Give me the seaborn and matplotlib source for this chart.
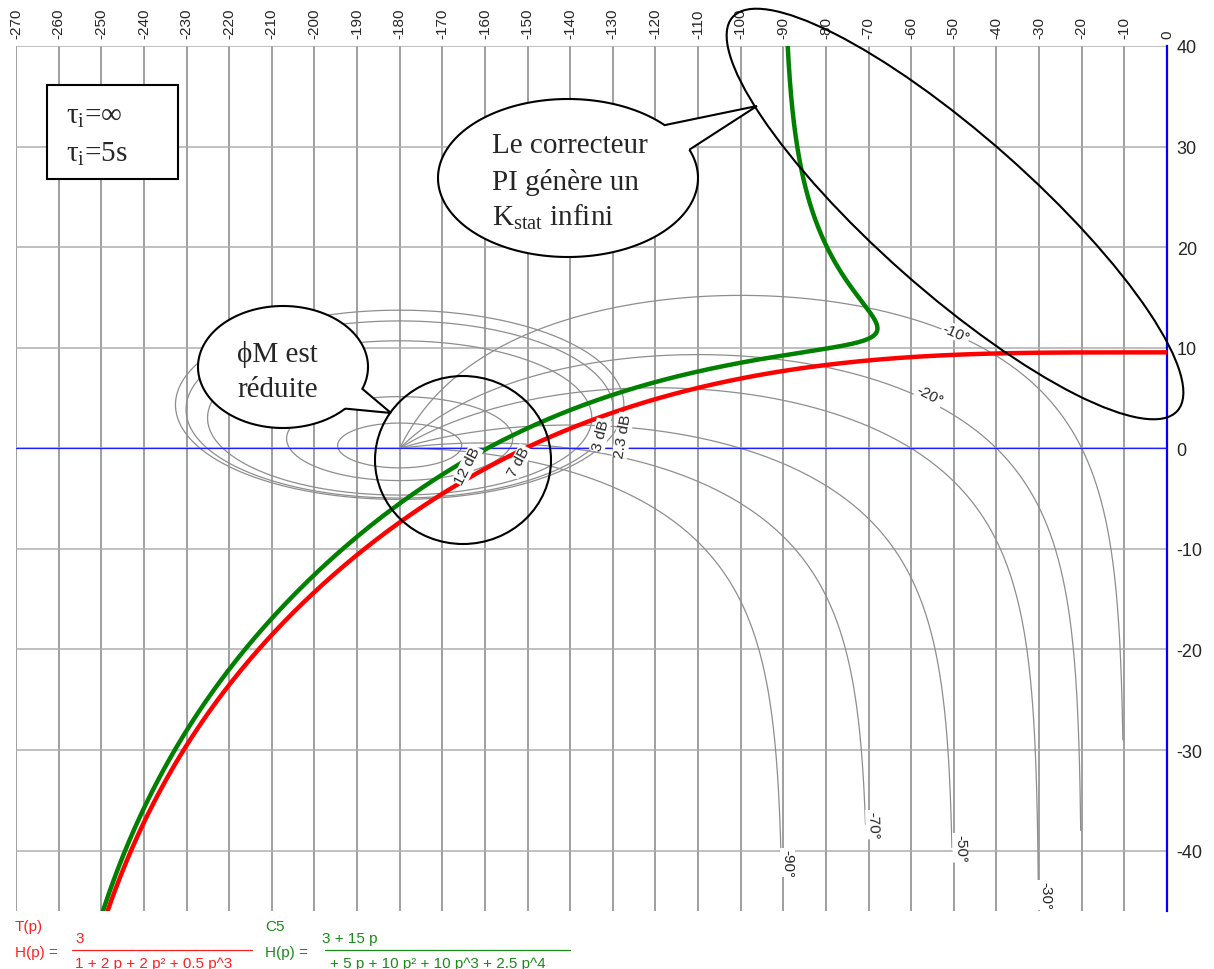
import numpy as np
import pandas as pd
import matplotlib
matplotlib.use("Agg")
import matplotlib.pyplot as plt
import matplotlib.transforms as mtransforms
from matplotlib.patches import Ellipse, PathPatch, Rectangle
from matplotlib.path import Path
from matplotlib.lines import Line2D
import seaborn as sns

# ---- transfer functions (coefficients in increasing powers of p) ----
T_num = [3]
T_den = [1, 2, 2, 0.5]
C5T_num = [3, 15]
C5T_den = [0, 5, 10, 10, 2.5]

# ---- Nichols grid levels ----
m_levels_db = [12, 7, 3, 2.3, 2]
phase_levels = [-10, -20, -30, -50, -70, -90]
phase_ends_db = [-29, -38, -44.5, -39.7, -37.4, -41.2]

m_labels = ["12 dB", "7 dB", "3 dB", "2.3 dB"]
phase_labels = ["-10°", "-20°", "-90°", "-70°", "-50°", "-30°"]

x_ticks = list(range(-270, 1, 10))
y_ticks = list(range(-40, 41, 10))

W, H = 1214, 970

sns.set_theme(style="white")
plt.rcParams.update({
    "font.family": ["Liberation Sans", "DejaVu Sans"],
    "axes.unicode_minus": False,
    "mathtext.fontset": "custom",
    "mathtext.rm": "Liberation Serif",
    "mathtext.it": "Liberation Serif:italic",
    "mathtext.bf": "Liberation Serif:bold",
})

fig = plt.figure(figsize=(W / 100, H / 100), dpi=100)
fig.patch.set_facecolor("white")
# pixel coordinates measured from the top-left corner
px = mtransforms.Affine2D().scale(1, -1).translate(0, H)

ax = fig.add_axes([16 / W, 1 - 912 / H, (1167 - 16) / W, (912 - 47) / H])
ax.set_facecolor("white")
ax.set_xlim(-270, 0)
ax.set_ylim(-46, 40)
ax.set_axisbelow(True)

# grid
ax.set_xticks(x_ticks)
ax.set_yticks(y_ticks)
ax.xaxis.tick_top()
ax.yaxis.tick_right()
ax.set_xticklabels([str(v) for v in x_ticks], rotation=90, fontsize=11)
ax.set_yticklabels([str(v) for v in y_ticks], fontsize=13)
ax.tick_params(axis="both", length=0)
ax.tick_params(axis="x", pad=6)
ax.tick_params(axis="y", pad=7)
ax.xaxis.grid(True, color="#979797", lw=1.3)
ax.yaxis.grid(True, color="#adadad", lw=1.1)
for s in ["left", "top", "bottom"]:
    ax.spines[s].set_visible(False)
ax.spines["right"].set_color("#0000ff")
ax.spines["right"].set_linewidth(1.6)
ax.axhline(0, color="#2020ff", lw=0.9, zorder=1.5)

contour_color = "#8e8e8e"

# closed-loop magnitude contours
psi = np.radians(np.linspace(0, -360, 1441))
for m_db in m_levels_db:
    M = 10 ** (m_db / 20)
    Tc = M * np.exp(1j * psi)
    L = Tc / (1 - Tc)
    ph = np.degrees(np.unwrap(np.angle(L)))
    ph -= 360 * np.round((ph[0] + 180) / 360)
    g = 20 * np.log10(np.abs(L))
    ax.plot(ph, g, color=contour_color, lw=0.9, zorder=1)

# closed-loop phase contours
rho = np.logspace(-3, 3, 6000)
for psi_deg, g_end in zip(phase_levels, phase_ends_db):
    Tc = rho * np.exp(1j * np.radians(psi_deg))
    L = Tc / (1 - Tc)
    ph = np.degrees(np.unwrap(np.angle(L)))
    ph -= 360 * np.round((ph[0] - psi_deg) / 360)
    g = 20 * np.log10(np.abs(L))
    keep = g >= g_end
    ax.plot(ph[keep], g[keep], color=contour_color, lw=0.9, zorder=1)

# open-loop frequency responses
w = np.logspace(-3, 2.5, 6000)


def response(num, den):
    p = 1j * w
    Hs = np.polyval(num[::-1], p) / np.polyval(den[::-1], p)
    return np.degrees(np.unwrap(np.angle(Hs))), 20 * np.log10(np.abs(Hs))


ph_t, g_t = response(T_num, T_den)
ph_c, g_c = response(C5T_num, C5T_den)
df_c = pd.DataFrame({"phase": ph_c, "gain": g_c})
df_t = pd.DataFrame({"phase": ph_t, "gain": g_t})
sns.lineplot(data=df_c, x="phase", y="gain", sort=False, estimator=None,
             color="#008000", lw=3.2, ax=ax, zorder=3)
sns.lineplot(data=df_t, x="phase", y="gain", sort=False, estimator=None,
             color="#ff0000", lw=3.2, ax=ax, zorder=3)
ax.set_xlabel("")
ax.set_ylabel("")

# contour labels
lab_box = dict(facecolor="white", edgecolor="none", pad=0.6)
m_lab_pos = [(-164.1, -1.7, 63), (-152.0, -1.3, 62), (-132.9, 1.3, 76), (-127.6, 1.3, 80)]
for txt, (x, y, r) in zip(m_labels, m_lab_pos):
    ax.text(x, y, txt, rotation=r, ha="center", va="center", fontsize=11,
            bbox=lab_box, zorder=4, rotation_mode="anchor")
ph_lab_pos = [(-49.5, 11.5, -24), (-55.6, 5.3, -28), (-89.0, -41.2, -90),
              (-68.9, -37.4, -88), (-48.5, -39.7, -89), (-28.6, -44.4, -90)]
for txt, (x, y, r) in zip(phase_labels, ph_lab_pos):
    ax.text(x, y, txt, rotation=r, ha="center", va="center", fontsize=11,
            bbox=lab_box, zorder=4, rotation_mode="anchor")

# ---- annotations ----
serif = ["Liberation Serif", "DejaVu Serif"]

fig.add_artist(Rectangle((47, 86), 131, 94, transform=px, facecolor="white",
                         edgecolor="black", lw=1.5, zorder=5))
fig.text(66, 124, r"τ$_{\mathrm{i}}$=∞", transform=px, family=serif,
         fontsize=21, ha="left", va="baseline", zorder=6)
fig.text(66, 162, r"τ$_{\mathrm{i}}$=5s", transform=px, family=serif,
         fontsize=21, ha="left", va="baseline", zorder=6)


def bubble(cx, cy, a, b, gap0, gap1, tip):
    t = np.radians(np.linspace(gap1, gap0 + 360, 240))
    xs = cx + a * np.cos(t)
    ys = cy + b * np.sin(t)
    verts = list(zip(xs, ys)) + [tip, (xs[0], ys[0])]
    patch = PathPatch(Path(verts), transform=px, facecolor="white",
                      edgecolor="black", lw=1.5, zorder=5)
    fig.add_artist(patch)


bubble(568, 179, 130, 79, -42, -21, (757, 107))
fig.text(492, 153, "Le correcteur", transform=px, family=serif, fontsize=21,
         ha="left", va="baseline", zorder=6)
fig.text(492, 190, "PI génère un", transform=px, family=serif, fontsize=21,
         ha="left", va="baseline", zorder=6)
fig.text(492, 226, r"K$_{\mathrm{stat}}$ infini", transform=px, family=serif,
         fontsize=21, ha="left", va="baseline", zorder=6)

bubble(283, 368, 85, 61, 21, 43, (391, 414))
fig.text(237, 362, "ϕM est", transform=px, family=serif, fontsize=21,
         ha="left", va="baseline", zorder=6)
fig.text(237, 397, "réduite", transform=px, family=serif, fontsize=21,
         ha="left", va="baseline", zorder=6)

fig.add_artist(Ellipse((463, 461), 176, 168, transform=px, facecolor="none",
                       edgecolor="black", lw=1.5, zorder=5))
fig.add_artist(Ellipse((955, 215), 594, 156, angle=41.5, transform=px,
                       facecolor="none", edgecolor="black", lw=1.5, zorder=5))

# ---- transfer function captions ----
red_txt = "#ff2020"
green_txt = "#1a8a1a"
fs = 11
fig.text(15, 927, "T(p)", transform=px, color=red_txt, fontsize=fs, va="center")
fig.text(15, 953, "H(p) =", transform=px, color=red_txt, fontsize=fs, va="center")
fig.text(75, 939, "3", transform=px, color=red_txt, fontsize=fs, va="center")
fig.add_artist(Line2D([72, 252], [951, 951], transform=px, color=red_txt, lw=0.9))
fig.text(75, 964, "1 + 2 p + 2 p² + 0.5 p^3", transform=px, color=red_txt,
         fontsize=fs, va="center")

fig.text(265, 927, "C5", transform=px, color=green_txt, fontsize=fs, va="center")
fig.text(265, 953, "H(p) =", transform=px, color=green_txt, fontsize=fs, va="center")
fig.text(322, 939, "3 + 15 p", transform=px, color=green_txt, fontsize=fs, va="center")
fig.add_artist(Line2D([325, 570], [951, 951], transform=px, color=green_txt, lw=0.9))
fig.text(330, 964, "+ 5 p + 10 p² + 10 p^3 + 2.5 p^4", transform=px,
         color=green_txt, fontsize=fs, va="center")

fig.savefig("out.png", dpi=100, facecolor="white")
